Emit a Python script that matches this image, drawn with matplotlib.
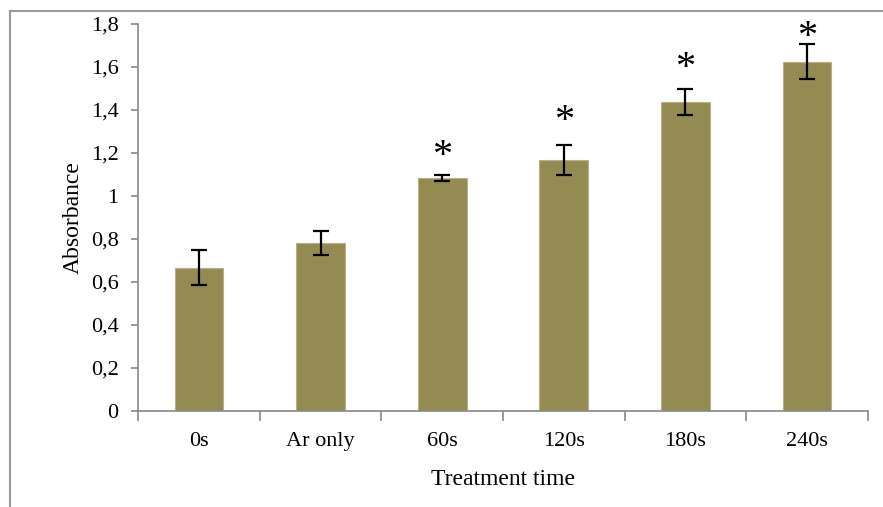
import matplotlib
matplotlib.use("Agg")
import matplotlib.pyplot as plt
from matplotlib.lines import Line2D

categories = ["0s", "Ar only", "60s", "120s", "180s", "240s"]
values = [0.667, 0.780, 1.082, 1.166, 1.437, 1.625]
errors = [0.083, 0.056, 0.014, 0.069, 0.060, 0.080]
star_y = [None, None, 1.185, 1.345, 1.595, 1.735]
yticks = [0, 0.2, 0.4, 0.6, 0.8, 1.0, 1.2, 1.4, 1.6, 1.8]
ytick_labels = ["0", "0,2", "0,4", "0,6", "0,8", "1", "1,2", "1,4", "1,6", "1,8"]

plt.rcParams['font.family'] = ['Liberation Serif', 'DejaVu Serif']

fig = plt.figure(figsize=(8.83, 5.07), dpi=100)
ax = fig.add_axes([0.1563, 0.1893, 0.8267, 0.7634])

x = list(range(len(categories)))
ax.bar(x, values, width=0.4, color='#948A54', edgecolor='#B8B08A', linewidth=0.8, zorder=2)
ax.errorbar(x, values, yerr=errors, fmt='none', ecolor='black', elinewidth=1.6,
            capsize=5.5, capthick=1.6, zorder=3)
for xi, sy in zip(x, star_y):
    if sy is not None:
        ax.text(xi, sy, "*", ha='center', va='center', fontsize=29, color='black')

ax.set_xlim(-0.5, len(categories) - 0.5)
ax.set_ylim(0, 1.8)
ax.set_yticks(yticks)
ax.set_yticklabels(ytick_labels, fontsize=16)
ax.set_xticks(x)
ax.set_xticklabels(categories, fontsize=16)
ax.set_xticks([i - 0.5 for i in range(len(categories) + 1)], minor=True)
ax.tick_params(axis='x', which='major', length=0, pad=15)
ax.tick_params(axis='x', which='minor', length=7, width=1.2, color='#888888', direction='out')
ax.tick_params(axis='y', length=5, width=1.2, color='#888888', direction='out', pad=9)

for s in ['top', 'right']:
    ax.spines[s].set_visible(False)
for s in ['left', 'bottom']:
    ax.spines[s].set_color('#888888')
    ax.spines[s].set_linewidth(1.2)

ax.set_ylabel("Absorbance", fontsize=17, labelpad=5)
ax.set_xlabel("Treatment time", fontsize=17, labelpad=13)

# outer frame (left and top edges visible)
fig.add_artist(Line2D([10/883, 10/883], [0, 1 - 11/507], transform=fig.transFigure,
                      color='#999999', linewidth=1.5))
fig.add_artist(Line2D([10/883, 1], [1 - 11/507, 1 - 11/507], transform=fig.transFigure,
                      color='#999999', linewidth=1.5))

fig.savefig("out.png", dpi=100)
